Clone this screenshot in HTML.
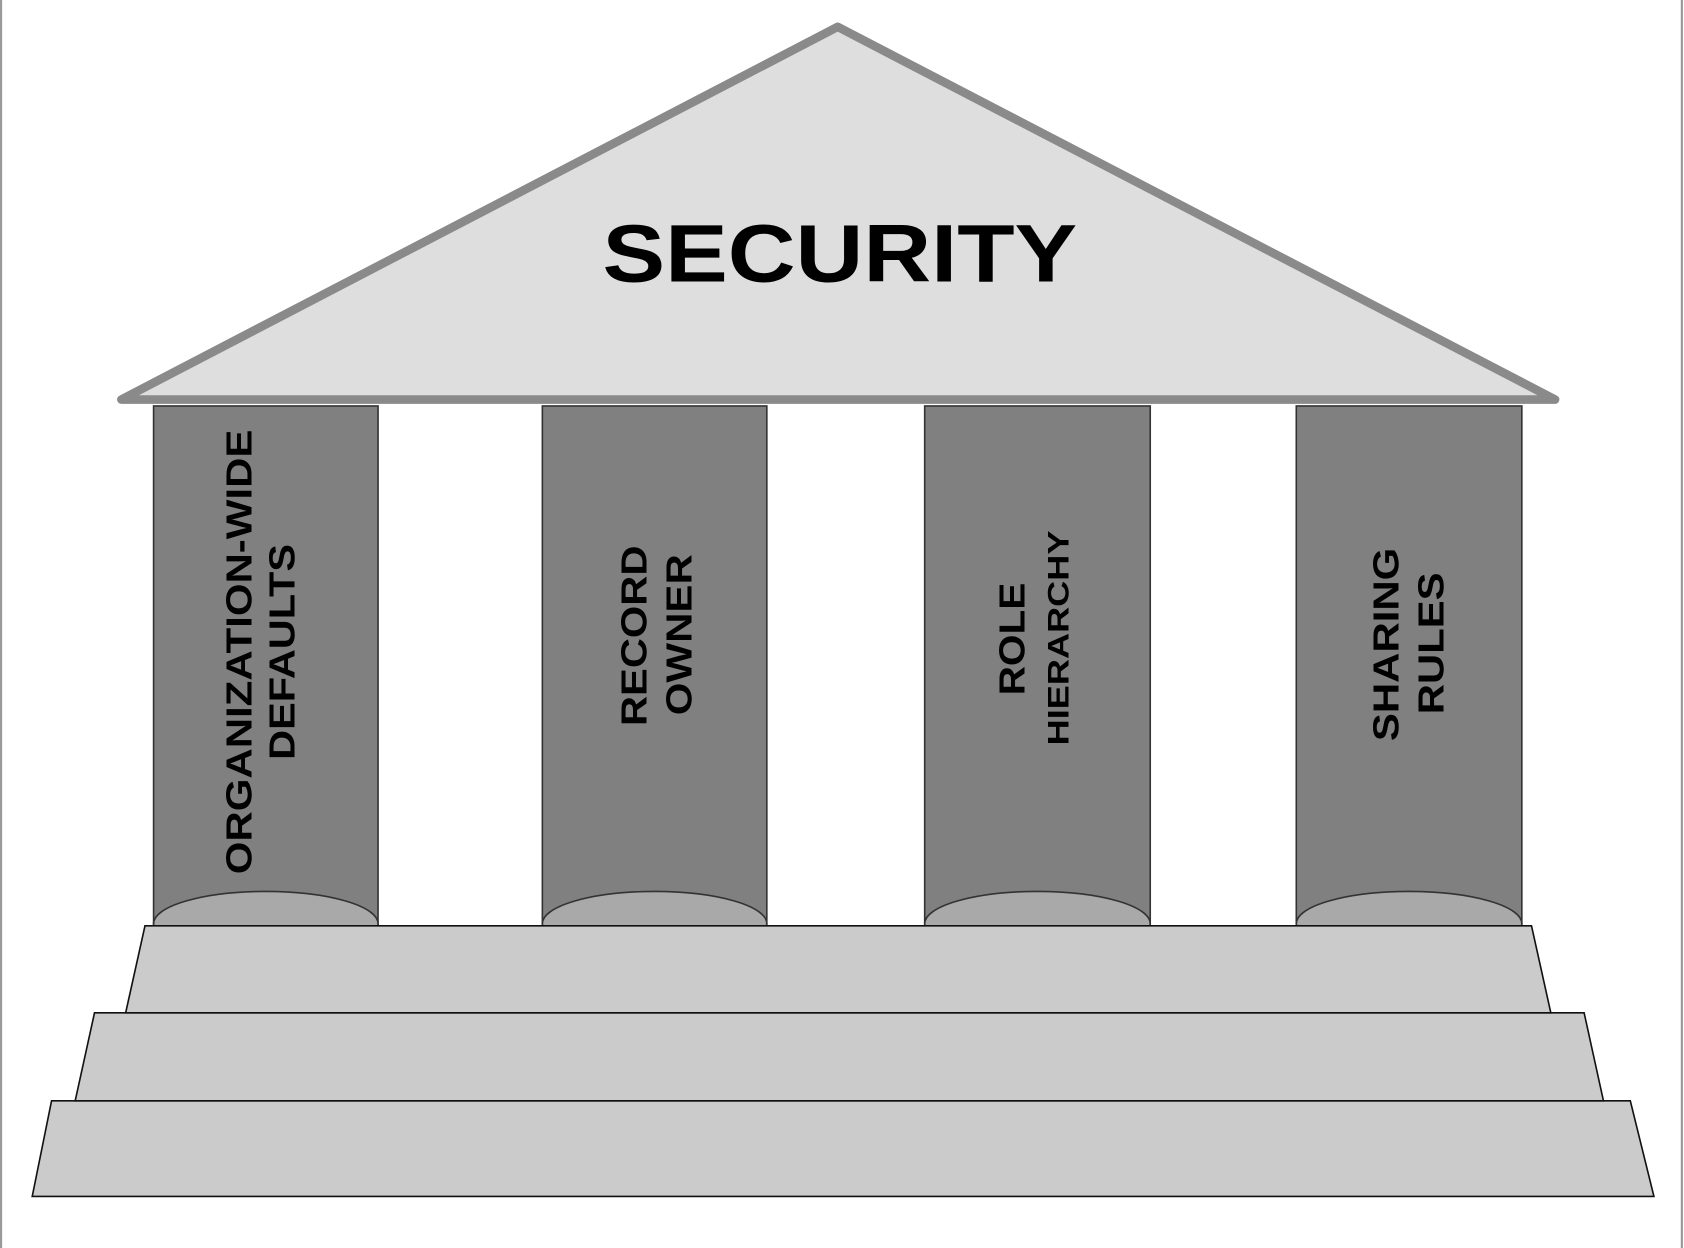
<!DOCTYPE html>
<html><head><meta charset="utf-8"><style>
html,body{margin:0;padding:0;background:#fff;}
svg{display:block;}
text{font-family:"Liberation Sans",sans-serif;font-weight:bold;fill:#000;}
</style></head><body>
<svg width="1684" height="1248" viewBox="0 0 1568 1162" preserveAspectRatio="none" xmlns="http://www.w3.org/2000/svg">
<rect x="0" y="0" width="1568" height="1162" fill="#fff"/>
<line x1="1" y1="0" x2="1" y2="1162" stroke="#999" stroke-width="2"/>
<line x1="1566" y1="0" x2="1566" y2="1162" stroke="#999" stroke-width="2"/>
<!-- roof -->
<polygon points="780,25 113,372 1448,372" fill="#dedede" stroke="#8a8a8a" stroke-width="8" stroke-linejoin="round"/>
<text x="782" y="262" font-size="76" text-anchor="middle" textLength="442" lengthAdjust="spacingAndGlyphs">SECURITY</text>
<!-- columns -->
<g stroke="#333" stroke-width="1.5">
<rect x="143" y="378" width="209" height="484" fill="#808080"/>
<rect x="505" y="378" width="209" height="484" fill="#808080"/>
<rect x="861" y="378" width="210" height="484" fill="#808080"/>
<rect x="1207" y="378" width="210" height="484" fill="#808080"/>
<ellipse cx="247.5" cy="860" rx="104.5" ry="30" fill="#a9a9a9"/>
<ellipse cx="609.5" cy="860" rx="104.5" ry="30" fill="#a9a9a9"/>
<ellipse cx="966" cy="860" rx="105" ry="30" fill="#a9a9a9"/>
<ellipse cx="1312" cy="860" rx="105" ry="30" fill="#a9a9a9"/>
</g>
<!-- column text -->
<g font-size="34" text-anchor="middle" lengthAdjust="spacingAndGlyphs">
<text transform="translate(234,607) rotate(-90)" textLength="414" lengthAdjust="spacingAndGlyphs">ORGANIZATION-WIDE</text>
<text transform="translate(274,607) rotate(-90)" textLength="201" lengthAdjust="spacingAndGlyphs">DEFAULTS</text>
<text transform="translate(602,592) rotate(-90)" textLength="168" lengthAdjust="spacingAndGlyphs">RECORD</text>
<text transform="translate(644,591) rotate(-90)" textLength="150" lengthAdjust="spacingAndGlyphs">OWNER</text>
<text transform="translate(954,595) rotate(-90)" textLength="105" lengthAdjust="spacingAndGlyphs">ROLE</text>
<text transform="translate(995,594) rotate(-90)" font-size="28" textLength="200" lengthAdjust="spacingAndGlyphs">HIERARCHY</text>
<text transform="translate(1302,600) rotate(-90)" textLength="180" lengthAdjust="spacingAndGlyphs">SHARING</text>
<text transform="translate(1344,599) rotate(-90)" textLength="132" lengthAdjust="spacingAndGlyphs">RULES</text>
</g>
<!-- steps -->
<g fill="#cbcbcb" stroke="#111" stroke-width="1.5">
<polygon points="30,1114 1540,1114 1518,1025 48,1025"/>
<polygon points="70,1025 1493,1025 1475,943 88,943"/>
<polygon points="117,943 1444,943 1426,862 135,862"/>
</g>
</svg>
</body></html>
